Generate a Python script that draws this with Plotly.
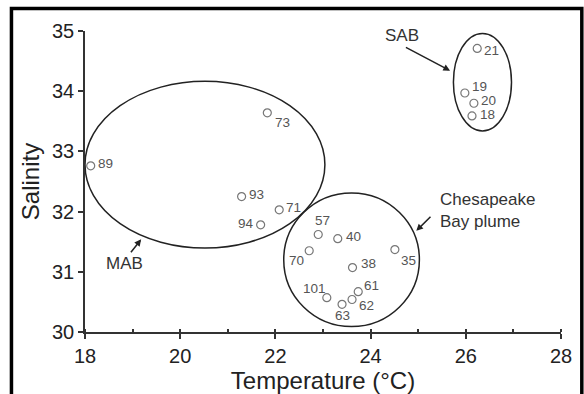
import plotly.graph_objects as go

# Station data: temperature (°C), salinity
stations = ["89", "73", "93", "94", "71", "57", "40", "70", "35", "38",
            "101", "61", "62", "63", "21", "19", "20", "18"]
temperature = [18.12, 21.83, 21.29, 21.69, 22.08, 22.90, 23.31, 22.71, 24.51, 23.62,
               23.08, 23.74, 23.61, 23.40, 26.24, 25.98, 26.17, 26.13]
salinity = [32.76, 33.64, 32.25, 31.78, 32.03, 31.62, 31.55, 31.35, 31.37, 31.07,
            30.57, 30.67, 30.54, 30.46, 34.71, 33.97, 33.80, 33.59]

# label placement (style): anchor, x offset px, y offset px (down positive)
lab_anchor = ["left", "left", "left", "right", "left", "center", "left", "right", "left", "left",
              "center", "left", "left", "center", "left", "left", "left", "left"]
lab_dx = [5, 6, 5, -5, 5, 4, 6, -3, 4, 6, -12, 4, 5, 0, 5, 5, 5, 6]
lab_dy = [-2, 10, -2, -1, -2, -14, -2, 10, 11, -4, -9, -6, 6, 11, 2, -7, -3, -1]

# Water-mass groupings (ellipse: centre x, centre y, half-width, half-height)
groups = ["MAB", "Chesapeake<br>Bay plume", "SAB"]
group_cx = [20.52, 23.60, 26.35]
group_cy = [32.78, 31.20, 34.15]
group_rx = [2.52, 1.425, 0.61]
group_ry = [1.385, 1.11, 0.81]
group_label_x = [18.82, 25.41, 24.67]
group_label_y = [31.14, 32.02, 34.93]
arrow_tail_x = [18.94, 25.29, 24.71]
arrow_tail_y = [31.30, 31.94, 34.74]
arrow_head_x = [19.18, 24.96, 25.67]
arrow_head_y = [31.54, 31.68, 34.34]

x_ticks = [18, 20, 22, 24, 26, 28]
y_ticks = [30, 31, 32, 33, 34, 35]

FONT = "Liberation Sans, Arial, Helvetica, sans-serif"

fig = go.Figure()
fig.add_trace(go.Scatter(
    x=temperature, y=salinity, mode="markers",
    marker=dict(symbol="circle-open", size=8, color="#777", line=dict(width=1.2)),
    cliponaxis=False, showlegend=False, hoverinfo="skip",
))

for i in range(len(stations)):
    fig.add_annotation(x=temperature[i], y=salinity[i], xref="x", yref="y",
                       text=stations[i], showarrow=False,
                       xanchor=lab_anchor[i], yanchor="middle",
                       xshift=lab_dx[i], yshift=-lab_dy[i],
                       font=dict(family=FONT, size=13.5, color="#555"))

for i in range(len(groups)):
    fig.add_shape(type="circle", xref="x", yref="y",
                  x0=group_cx[i] - group_rx[i], x1=group_cx[i] + group_rx[i],
                  y0=group_cy[i] - group_ry[i], y1=group_cy[i] + group_ry[i],
                  line=dict(color="#222", width=1.5))

g_anchor = ["center", "left", "center"]
for i in range(len(groups)):
    fig.add_annotation(x=arrow_head_x[i], y=arrow_head_y[i],
                       ax=arrow_tail_x[i], ay=arrow_tail_y[i],
                       xref="x", yref="y", axref="x", ayref="y",
                       showarrow=True, arrowhead=2, arrowsize=0.9, arrowwidth=1.5,
                       arrowcolor="#222", text="")
    fig.add_annotation(x=group_label_x[i], y=group_label_y[i], xref="x", yref="y",
                       text=groups[i], showarrow=False,
                       xanchor=g_anchor[i], yanchor="middle", align="left",
                       font=dict(family=FONT, size=17, color="#333"))

# outer frame
PW, PH = 475.7, 300.7
fig.add_shape(type="rect", xref="paper", yref="paper",
              x0=(11.5 - 85) / PW, x1=(581.5 - 85) / PW,
              y0=(331.7 - 420) / PH, y1=(331.7 - 8.5) / PH,
              line=dict(color="black", width=3.5))

tickfont = dict(family=FONT, size=20, color="#222")
fig.update_xaxes(range=[18, 28], tickvals=x_ticks, showline=True, linecolor="#333",
                 linewidth=1.5, ticks="outside", ticklen=5, tickcolor="#333", tickwidth=1.5,
                 minor=dict(dtick=1, ticks="inside", ticklen=3, tickcolor="#333"),
                 showgrid=False, zeroline=False, tickfont=tickfont,
                 title=dict(text="Temperature (°C)", font=dict(family=FONT, size=24, color="#222"), standoff=4))
fig.update_yaxes(range=[30, 35], tickvals=y_ticks, showline=True, linecolor="#333",
                 linewidth=1.5, ticks="outside", ticklen=5, tickcolor="#333", tickwidth=1.5,
                 showgrid=False, zeroline=False, tickfont=tickfont,
                 title=dict(text="Salinity", font=dict(family=FONT, size=24, color="#222"), standoff=6))

fig.update_layout(width=584, height=394,
                  margin=dict(l=85, r=23, t=31, b=62, autoexpand=False),
                  plot_bgcolor="white", paper_bgcolor="white")

fig.write_html("out.html", post_script="document.body.style.margin='0';",
               config={"displayModeBar": False})
